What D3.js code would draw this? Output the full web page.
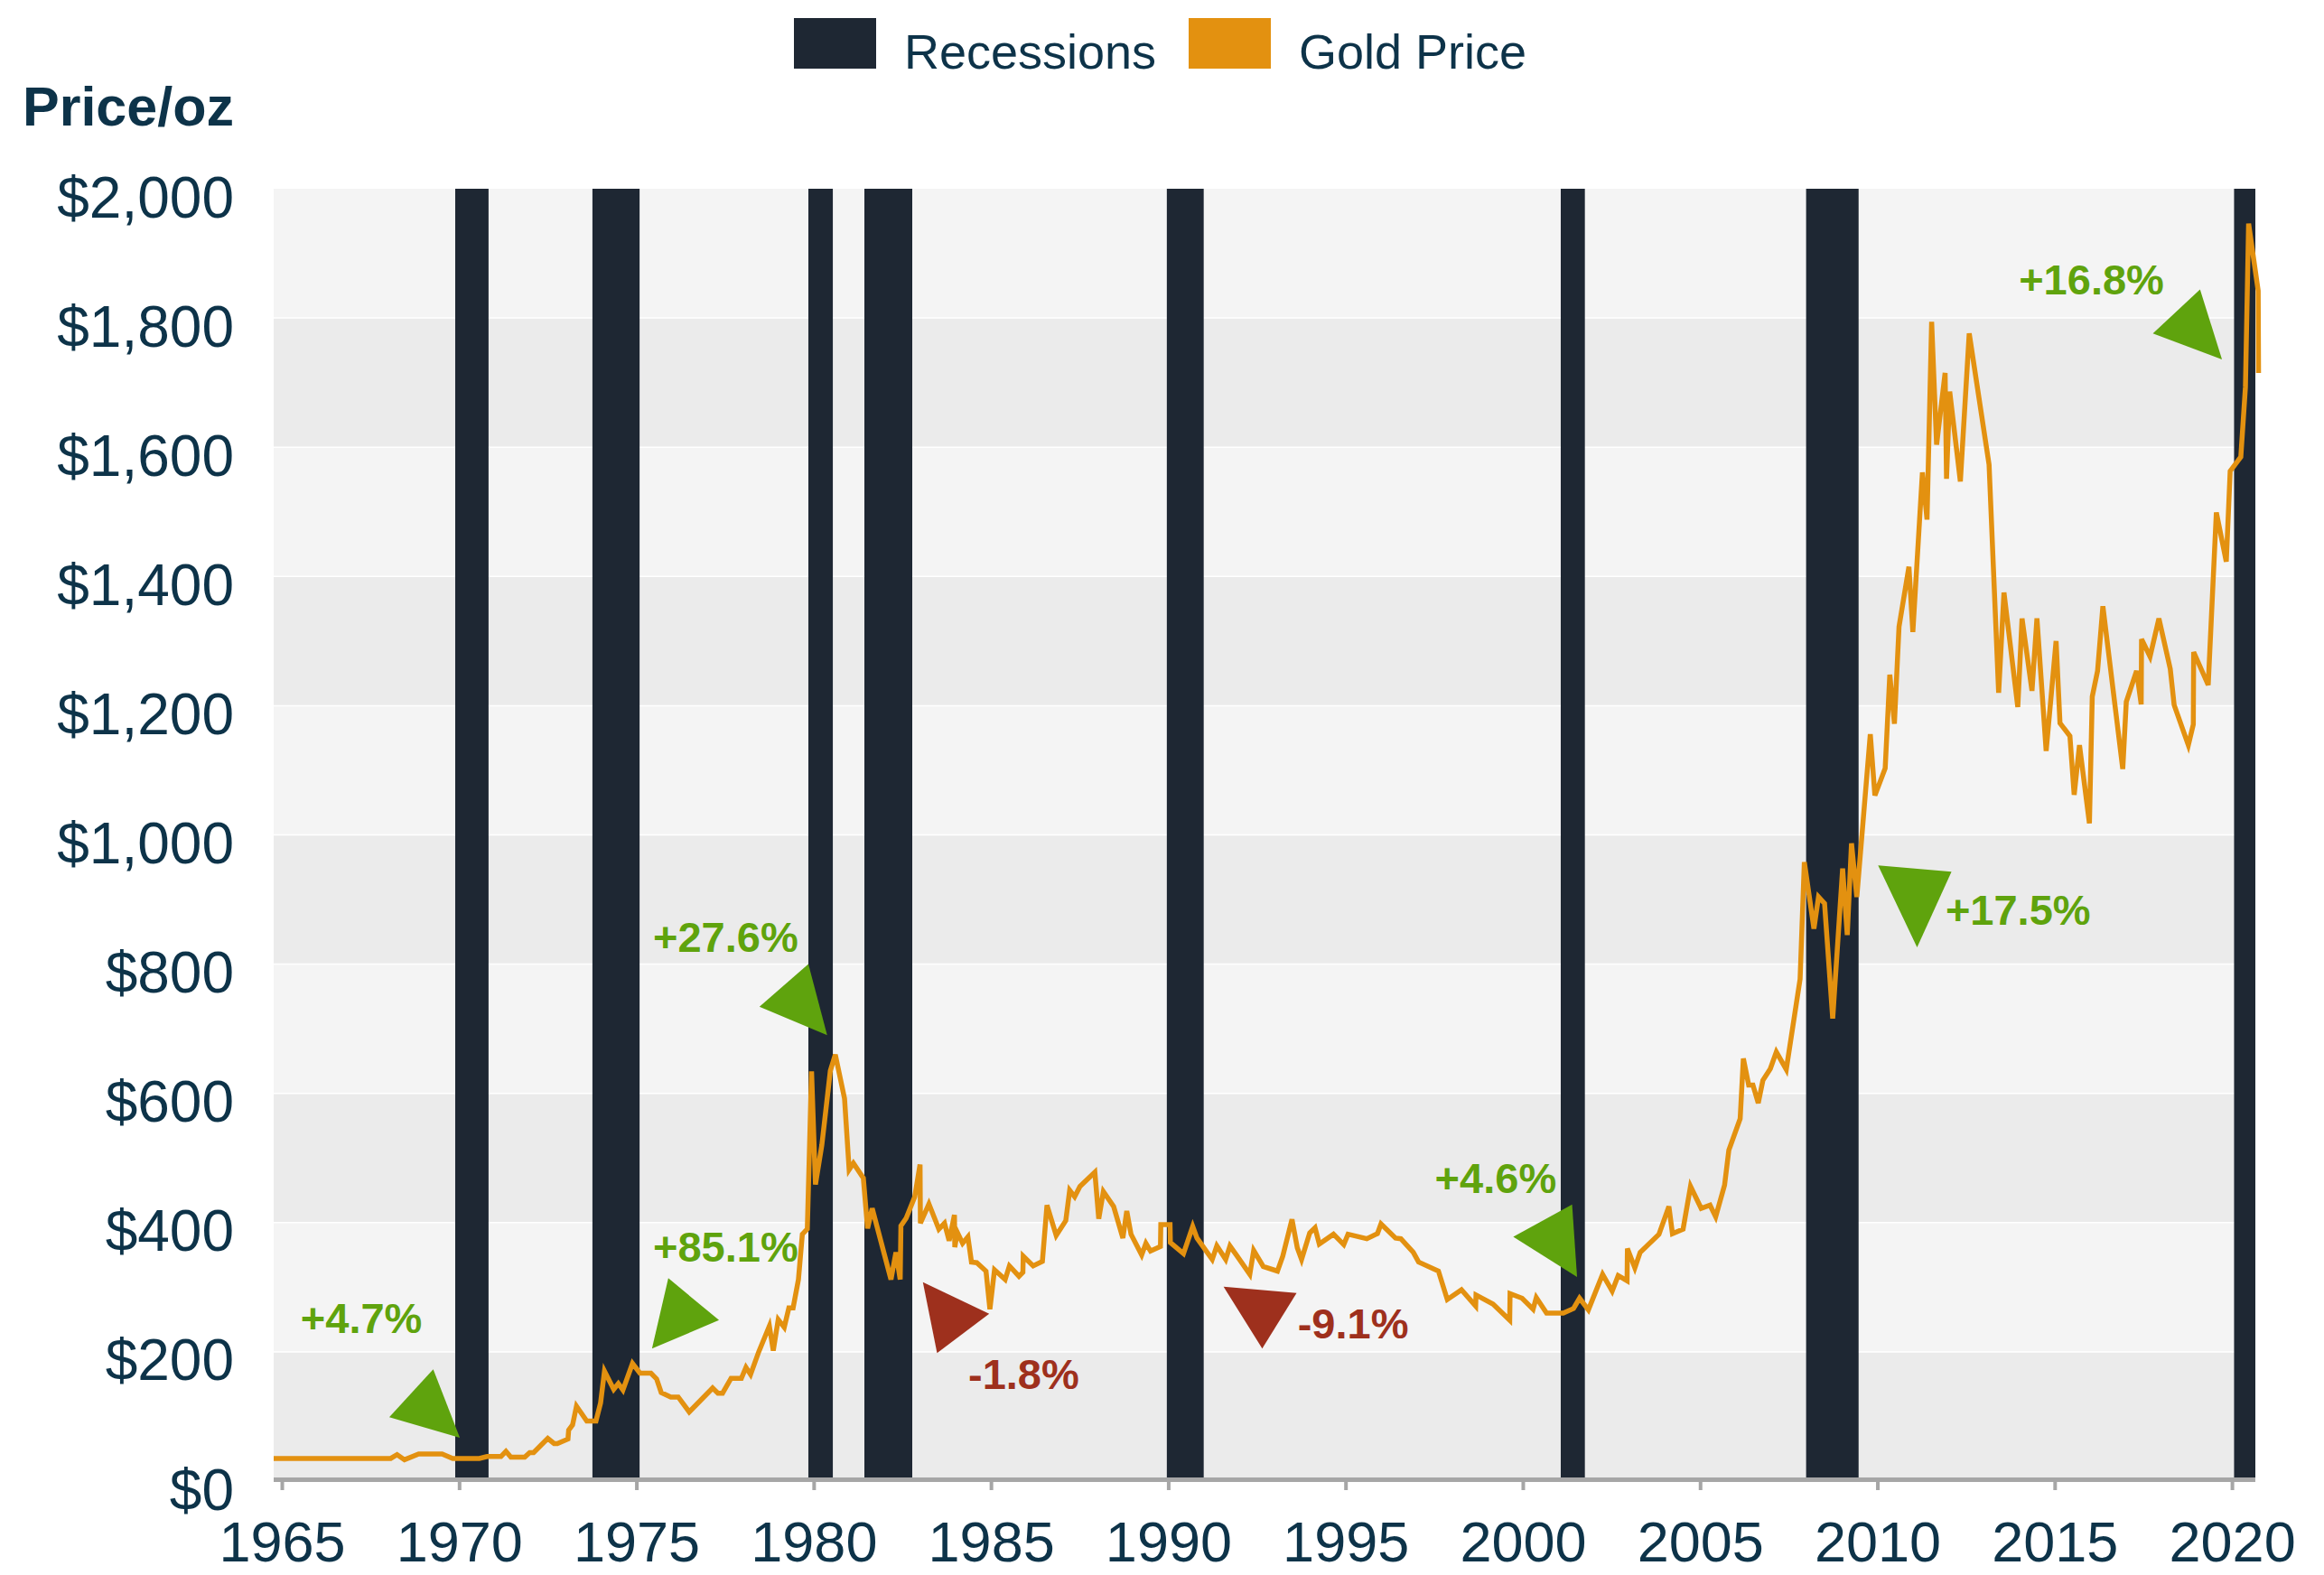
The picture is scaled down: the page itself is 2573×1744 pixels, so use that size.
<!DOCTYPE html>
<html>
<head>
<meta charset="utf-8">
<script src="https://cdn.jsdelivr.net/npm/d3@7"></script>
<style>
  body { margin: 0; background: #fff; }
  text { font-family: "Liberation Sans", Arial, sans-serif; }
</style>
</head>
<body>
<div id="chart"></div>
<script>
// gold price, [year, $/oz]
const goldSeries = [
  [1964.77, 35], [1968.07, 35], [1968.25, 41], [1968.46, 33], [1968.86, 42], [1969.52, 42],
  [1969.82, 35], [1970.57, 35], [1970.79, 38], [1971.18, 38], [1971.32, 46], [1971.46, 37],
  [1971.85, 37], [1971.99, 44], [1972.10, 44], [1972.50, 66], [1972.68, 58], [1972.77, 58],
  [1973.07, 65], [1973.09, 79], [1973.20, 87], [1973.31, 116], [1973.60, 93], [1973.86, 93],
  [1973.99, 121], [1974.10, 170], [1974.36, 142], [1974.49, 151], [1974.62, 141], [1974.89, 182],
  [1975.10, 167], [1975.41, 167], [1975.57, 158], [1975.70, 137], [1975.97, 130], [1976.18, 130],
  [1976.49, 107], [1977.15, 144], [1977.30, 136], [1977.43, 136], [1977.67, 159], [1977.96, 159],
  [1978.09, 176], [1978.22, 165], [1978.45, 200], [1978.75, 240], [1978.86, 202], [1979.00, 250],
  [1979.17, 238], [1979.30, 268], [1979.42, 268], [1979.57, 312], [1979.68, 382], [1979.82, 390],
  [1979.94, 634], [1980.05, 459], [1980.23, 520], [1980.47, 635], [1980.61, 660], [1980.87, 592],
  [1981.00, 482], [1981.12, 492], [1981.40, 469], [1981.52, 391], [1981.65, 422], [1982.18, 312],
  [1982.32, 354], [1982.44, 312], [1982.46, 395], [1982.61, 407], [1982.85, 440], [1983.00, 490],
  [1983.01, 399], [1983.25, 429], [1983.53, 390], [1983.69, 399], [1983.82, 372], [1983.97, 412],
  [1983.98, 362], [1984.05, 385], [1984.20, 368], [1984.35, 378], [1984.45, 339], [1984.60, 338],
  [1984.86, 325], [1984.97, 266], [1985.10, 327], [1985.40, 312], [1985.52, 333], [1985.79, 317],
  [1985.90, 323], [1985.91, 348], [1986.19, 333], [1986.45, 340], [1986.58, 427], [1986.84, 380],
  [1987.11, 403], [1987.22, 450], [1987.36, 440], [1987.51, 456], [1987.93, 478], [1988.04, 406],
  [1988.17, 448], [1988.46, 425], [1988.72, 376], [1988.83, 418], [1988.95, 382], [1989.25, 350],
  [1989.37, 368], [1989.50, 356], [1989.78, 363], [1989.79, 397], [1990.05, 397], [1990.06, 369],
  [1990.43, 352], [1990.69, 394], [1990.81, 376], [1991.24, 343], [1991.37, 364], [1991.62, 343],
  [1991.74, 364], [1991.97, 346], [1992.30, 320], [1992.41, 357], [1992.68, 332], [1993.08, 325],
  [1993.23, 348], [1993.49, 405], [1993.64, 361], [1993.76, 343], [1993.99, 384], [1994.14, 392],
  [1994.26, 367], [1994.66, 382], [1994.95, 366], [1995.07, 382], [1995.60, 375], [1995.90, 383],
  [1996.00, 398], [1996.41, 376], [1996.56, 375], [1996.91, 354], [1997.06, 339], [1997.62, 325],
  [1997.87, 281], [1998.27, 296], [1998.67, 271], [1998.68, 288], [1999.16, 274], [1999.63, 249],
  [1999.64, 290], [1999.98, 283], [2000.29, 266], [2000.38, 284], [2000.67, 260], [2001.14, 260],
  [2001.43, 267], [2001.60, 283], [2001.85, 265], [2002.25, 320], [2002.52, 294], [2002.69, 318],
  [2002.94, 310], [2002.95, 360], [2003.16, 330], [2003.31, 354], [2003.84, 382], [2004.12, 425],
  [2004.22, 383], [2004.52, 390], [2004.73, 456], [2005.03, 422], [2005.28, 427], [2005.44, 409],
  [2005.69, 458], [2005.81, 512], [2006.13, 561], [2006.22, 654], [2006.37, 613], [2006.49, 613],
  [2006.64, 585], [2006.77, 620], [2006.98, 638], [2007.15, 664], [2007.43, 637], [2007.82, 777],
  [2007.94, 958], [2008.21, 855], [2008.34, 904], [2008.51, 894], [2008.74, 716], [2009.02, 948],
  [2009.15, 845], [2009.27, 987], [2009.42, 904], [2009.80, 1156], [2009.93, 1061], [2010.22, 1103],
  [2010.35, 1248], [2010.48, 1172], [2010.61, 1322], [2010.89, 1415], [2011.00, 1314], [2011.27, 1561],
  [2011.40, 1488], [2011.53, 1794], [2011.67, 1604], [2011.91, 1715], [2011.95, 1551], [2012.04, 1686],
  [2012.34, 1547], [2012.59, 1776], [2013.15, 1573], [2013.42, 1220], [2013.57, 1375], [2013.96, 1198],
  [2014.08, 1335], [2014.36, 1223], [2014.50, 1335], [2014.76, 1130], [2015.04, 1300], [2015.15, 1173],
  [2015.43, 1153], [2015.55, 1062], [2015.70, 1139], [2015.98, 1018], [2016.06, 1214], [2016.21, 1254],
  [2016.36, 1354], [2016.92, 1102], [2017.02, 1206], [2017.31, 1254], [2017.44, 1202], [2017.45, 1303],
  [2017.69, 1276], [2017.94, 1335], [2018.26, 1257], [2018.37, 1201], [2018.77, 1139], [2018.91, 1171],
  [2018.92, 1283], [2019.33, 1232], [2019.56, 1499], [2019.84, 1423], [2019.95, 1563], [2020.25, 1585],
  [2020.38, 1693], [2020.47, 1946], [2020.74, 1842], [2020.75, 1715]
];

// recession periods (decimal years)
const recessionStarts = [1969.89, 1973.76, 1979.85, 1981.43, 1989.96, 2001.07, 2007.99, 2020.06];
const recessionEnds   = [1970.83, 1975.09, 1980.54, 1982.78, 1991.00, 2001.75, 2009.47, 2020.80];

const yTicks = [0, 200, 400, 600, 800, 1000, 1200, 1400, 1600, 1800, 2000];
const xTicks = [1965, 1970, 1975, 1980, 1985, 1990, 1995, 2000, 2005, 2010, 2015, 2020];

// annotation triangles: vertices in [year, price], plus label
const annoLabels = ["+4.7%", "+85.1%", "+27.6%", "-1.8%", "-9.1%", "+4.6%", "+17.5%", "+16.8%"];
const annoUp = [true, true, true, false, false, true, true, true];
const annoTriangles = [
  [[1969.27, 173], [1968.03, 99], [1970.02, 67]],
  [[1975.90, 314], [1977.33, 249], [1975.44, 205]],
  [[1979.85, 800], [1978.47, 734], [1980.38, 690]],
  [[1983.08, 308], [1984.95, 259], [1983.48, 198]],
  [[1991.56, 301], [1993.62, 291], [1992.65, 205]],
  [[2001.39, 428], [1999.73, 378], [2001.53, 316]],
  [[2010.02, 953], [2012.09, 943], [2011.12, 826]],
  [[2019.10, 1844], [2017.77, 1776], [2019.72, 1736]]
];
const annoLabelPos = [
  [1965.53, 229], [1975.47, 340], [1975.47, 819], [1984.36, 142],
  [1993.65, 221], [1997.52, 446], [2011.92, 861], [2013.99, 1837]
];

const W = 2573, H = 1744;
const plot = {left: 303, right: 2497, top: 209, bottom: 1640};
const navy = "#0d3349", gold = "#e39110", recessionColor = "#1e2733";
const green = "#5fa30d", red = "#9e301d";

const x = d3.scaleLinear().domain([1964.77, 2020.66]).range([plot.left, plot.right]);
const y = d3.scaleLinear().domain([0, 2000]).range([plot.bottom, plot.top]);

const svg = d3.select("#chart").append("svg")
  .attr("width", W).attr("height", H)
  .style("background", "#fff");

svg.append("defs").append("clipPath").attr("id", "plotClip")
  .append("rect")
  .attr("x", plot.left).attr("y", plot.top)
  .attr("width", plot.right - plot.left).attr("height", plot.bottom - plot.top);

// alternating bands
const bands = d3.pairs(yTicks);
svg.append("g").selectAll("rect")
  .data(bands)
  .enter().append("rect")
  .attr("x", plot.left)
  .attr("width", plot.right - plot.left)
  .attr("y", d => y(d[1]))
  .attr("height", d => y(d[0]) - y(d[1]))
  .attr("fill", (d, i) => i % 2 === 0 ? "#ebebeb" : "#f4f4f4");

// thin white gridlines between bands
svg.append("g").selectAll("line")
  .data(yTicks.slice(1, -1))
  .enter().append("line")
  .attr("x1", plot.left).attr("x2", plot.right)
  .attr("y1", d => y(d)).attr("y2", d => y(d))
  .attr("stroke", "#fff").attr("stroke-width", 1.5);

// recession bars
svg.append("g").attr("clip-path", "url(#plotClip)")
  .selectAll("rect")
  .data(recessionStarts.map((s, i) => [s, recessionEnds[i]]))
  .enter().append("rect")
  .attr("x", d => x(d[0]))
  .attr("width", d => x(d[1]) - x(d[0]))
  .attr("y", plot.top)
  .attr("height", plot.bottom - plot.top)
  .attr("fill", recessionColor);

// gold line
const line = d3.line().x(d => x(d[0])).y(d => y(d[1]));
svg.append("path")
  .datum(goldSeries)
  .attr("d", line)
  .attr("fill", "none")
  .attr("stroke", gold)
  .attr("stroke-width", 5.5)
  .attr("stroke-linejoin", "miter");

// annotations
const anno = svg.append("g");
anno.selectAll("path")
  .data(annoTriangles)
  .enter().append("path")
  .attr("d", d => "M" + d.map(p => x(p[0]) + "," + y(p[1])).join("L") + "Z")
  .attr("fill", (d, i) => annoUp[i] ? green : red);
anno.selectAll("text")
  .data(annoLabels)
  .enter().append("text")
  .attr("x", (d, i) => x(annoLabelPos[i][0]))
  .attr("y", (d, i) => y(annoLabelPos[i][1]))
  .attr("fill", (d, i) => annoUp[i] ? green : red)
  .style("font-size", "47px")
  .style("font-weight", "bold")
  .text(d => d);

// x axis
const xAxis = svg.append("g")
  .attr("transform", "translate(0," + (plot.bottom + 1) + ")")
  .call(d3.axisBottom(x).tickValues(xTicks).tickFormat(d3.format("d")).tickSizeInner(9).tickSizeOuter(0));
xAxis.select(".domain").remove();
xAxis.selectAll(".tick line").attr("stroke", "#a6a6a6").attr("stroke-width", 4);
xAxis.selectAll(".tick text")
  .attr("y", 88).attr("dy", 0)
  .attr("fill", navy)
  .style("font-size", "63px");
svg.append("rect")
  .attr("x", plot.left).attr("width", plot.right - plot.left)
  .attr("y", plot.bottom - 4).attr("height", 5)
  .attr("fill", "#a6a6a6");

// y axis
const yAxis = svg.append("g")
  .attr("transform", "translate(" + plot.left + ",0)")
  .call(d3.axisLeft(y).tickValues(yTicks).tickFormat(d3.format("$,")).tickSize(0).tickPadding(44));
yAxis.select(".domain").remove();
yAxis.selectAll(".tick text")
  .attr("dy", 31)
  .attr("fill", navy)
  .style("font-size", "64px");

svg.append("text")
  .attr("x", 25).attr("y", 139)
  .attr("fill", navy)
  .style("font-size", "61px")
  .style("font-weight", "bold")
  .text("Price/oz");

// legend
const legendItems = [
  {label: "Recessions", color: recessionColor, x: 879},
  {label: "Gold Price", color: gold, x: 1316}
];
const legend = svg.append("g").selectAll("g")
  .data(legendItems)
  .enter().append("g")
  .attr("transform", d => "translate(" + d.x + ",20)");
legend.append("rect")
  .attr("width", 91).attr("height", 56)
  .attr("fill", d => d.color);
legend.append("text")
  .attr("x", 122).attr("y", 56)
  .attr("fill", navy)
  .style("font-size", "54px")
  .text(d => d.label);
</script>
</body>
</html>
